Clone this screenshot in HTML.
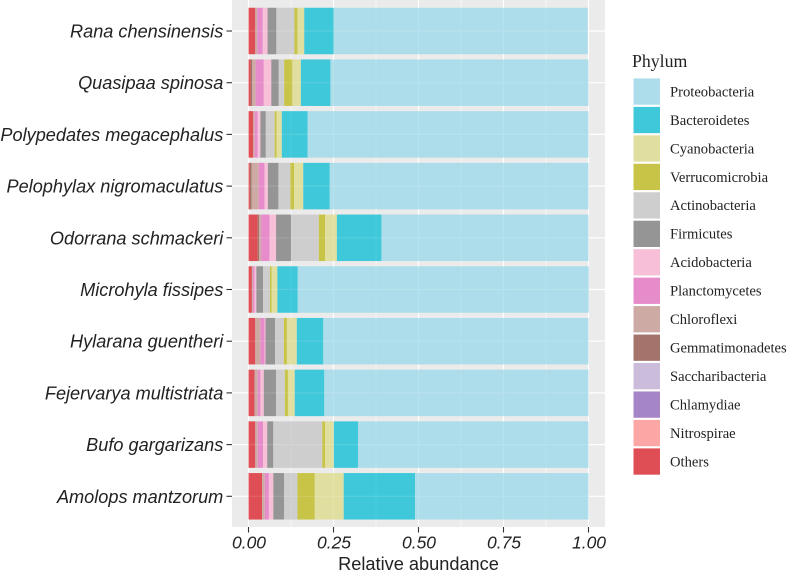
<!DOCTYPE html>
<html lang="en">
<head>
<meta charset="utf-8">
<title>Relative abundance by phylum</title>
<style>
html,body{margin:0;padding:0;background:#fff;width:787px;height:571px;overflow:hidden}
svg{display:block}
.sp{font:italic 18.15px "Liberation Sans",sans-serif;fill:#222}
.xt{font:italic 17.5px "Liberation Sans",sans-serif;fill:#222}
.xa{font:18.2px "Liberation Sans",sans-serif;fill:#222}
.lg{font:14.6px "Liberation Serif",serif;fill:#222}
.lt{font:17.8px "Liberation Serif",serif;fill:#222}
</style>
</head>
<body>
<svg id="chart" width="787" height="571" viewBox="0 0 787 571" xmlns="http://www.w3.org/2000/svg"></svg>
<script>
const species = ["Rana chensinensis","Quasipaa spinosa","Polypedates megacephalus","Pelophylax nigromaculatus","Odorrana schmackeri","Microhyla fissipes","Hylarana guentheri","Fejervarya multistriata","Bufo gargarizans","Amolops mantzorum"];
const phyla = ["Proteobacteria","Bacteroidetes","Cyanobacteria","Verrucomicrobia","Actinobacteria","Firmicutes","Acidobacteria","Planctomycetes","Chloroflexi","Gemmatimonadetes","Saccharibacteria","Chlamydiae","Nitrospirae","Others"];
const phylumColors = ["#ADDDEA","#3FC8D9","#E0DF9F","#C8C447","#CECECE","#959595","#F7C0D8","#E68CCB","#CDABA4","#A3736C","#CBBCDC","#A684C8","#FCA6A6","#DF4E54"];
const proteobacteria = [0.747,0.759,0.826,0.761,0.609,0.856,0.780,0.777,0.678,0.510];
const bacteroidetes = [0.087,0.087,0.076,0.078,0.131,0.060,0.078,0.087,0.071,0.210];
const cyanobacteria = [0.020,0.025,0.015,0.027,0.035,0.017,0.029,0.020,0.026,0.085];
const verrucomicrobia = [0.009,0.024,0.006,0.011,0.018,0.005,0.009,0.009,0.008,0.051];
const actinobacteria = [0.053,0.016,0.026,0.035,0.082,0.020,0.026,0.026,0.144,0.039];
const firmicutes = [0.026,0.022,0.016,0.031,0.044,0.020,0.028,0.036,0.018,0.032];
const acidobacteria = [0.014,0.022,0.008,0.010,0.019,0.005,0.003,0.010,0.012,0.013];
const planctomycetes = [0.016,0.024,0.009,0.017,0.025,0.005,0.012,0.008,0.016,0.012];
const chloroflexi = [0.006,0.010,0.004,0.021,0.006,0.003,0.015,0.009,0.007,0.008];
const gemmatimonadetes = [0,0.005,0,0.005,0.004,0,0,0,0,0];
const saccharibacteria = [0,0,0,0,0,0,0,0,0,0];
const chlamydiae = [0,0,0,0,0,0,0,0,0,0];
const nitrospirae = [0,0,0,0,0,0,0,0,0,0];
const others = [0.020,0.006,0.014,0.004,0.027,0.010,0.020,0.018,0.020,0.040];
const seriesValues = [proteobacteria,bacteroidetes,cyanobacteria,verrucomicrobia,actinobacteria,firmicutes,acidobacteria,planctomycetes,chloroflexi,gemmatimonadetes,saccharibacteria,chlamydiae,nitrospirae,others];
const xTicks = [0,0.25,0.5,0.75,1];
const xTickLabels = ["0.00","0.25","0.50","0.75","1.00"];
const xMinor = [0.125,0.375,0.625,0.875];

const svg = document.getElementById('chart');
const NS = 'http://www.w3.org/2000/svg';
const panel = {l:232, r:605, t:0, b:527};
const xScale = v => 248.5 + v * 340;
const yScale = i => 31 + i * 51.7;
const barH = 46.5;

function mk(tag, attrs, parent, text){
  const el = document.createElementNS(NS, tag);
  for (const k in attrs) el.setAttribute(k, attrs[k]);
  if (text !== undefined) el.textContent = text;
  (parent || svg).appendChild(el);
  return el;
}

const bg = mk('rect',{x:panel.l,y:panel.t,width:panel.r-panel.l,height:panel.b-panel.t,fill:'#EBEBEB'});



function gridLines(opacity){
  const g = mk('g',{stroke:'#fff',opacity:opacity});
  
  
  xMinor.forEach(v => mk('line',{x1:xScale(v),x2:xScale(v),y1:panel.t,y2:panel.b,'stroke-width':0.6},g));
  xTicks.forEach(v => mk('line',{x1:xScale(v),x2:xScale(v),y1:panel.t,y2:panel.b,'stroke-width':1.2},g));
  species.forEach((s,i) => mk('line',{x1:panel.l,x2:panel.r,y1:yScale(i),y2:yScale(i),'stroke-width':1.2},g));
}
gridLines(1);

species.forEach((name,i) => {
  const group = mk('g',{});
  
  
  let cum = 0;
  for (let p = phyla.length - 1; p >= 0; p--) {
    const v = seriesValues[p][i];
    if (v > 0) {
      const seg = mk('rect',{x:xScale(cum),y:yScale(i)-barH/2,width:xScale(cum+v)-xScale(cum),height:barH,fill:phylumColors[p]},group);
      
      
    }
    cum += v;
  }
  const tick = mk('line',{x1:226.5,x2:232,y1:yScale(i),y2:yScale(i),stroke:'#333','stroke-width':1.1});
  
  
  const label = mk('text',{x:223.3,y:yScale(i)+6.5,'text-anchor':'end',class:'sp'},svg,name);
  
  
});
gridLines(0.12);

xTicks.forEach((v,i) => {
  const tick = mk('line',{x1:xScale(v),x2:xScale(v),y1:527,y2:532.5,stroke:'#333','stroke-width':1.1});
  
  
  const label = mk('text',{x:xScale(v)+0.5,y:548.5,'text-anchor':'middle',class:'xt'},svg,xTickLabels[i]);
  
  
});

const xTitle = mk('text',{x:418.5,y:570,'text-anchor':'middle',class:'xa'},svg,'Relative abundance');



const legendTitle = mk('text',{x:632,y:67,class:'lt'},svg,'Phylum');



phyla.forEach((name,i) => {
  const y = 78.4 + i * 28.46;
  const g = mk('g',{});
  
  
  mk('rect',{x:633.5,y:y,width:26.5,height:26.3,fill:phylumColors[i]},g);
  mk('text',{x:670,y:y+18,class:'lg'},g,name);
});
</script>
</body>
</html>
